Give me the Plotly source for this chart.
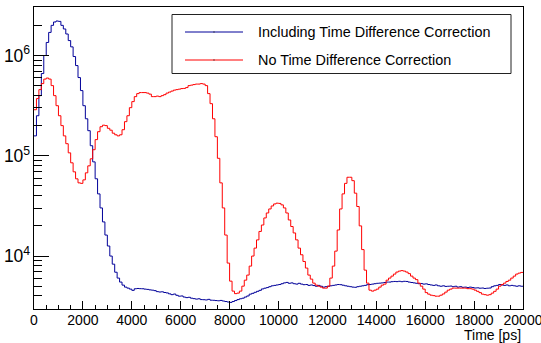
import plotly.graph_objects as go

# ---------------- data ----------------
bin_start_ps = 0
bin_width_ps = 100
series_names = ["Including Time Difference Correction", "No Time Difference Correction"]
series_colors = ["#000099", "#ff0000"]

counts_corrected = [
    158000, 251000, 398000, 661000, 1000000, 1350000, 1700000, 2000000, 2160000, 2210000,
    2190000, 2000000, 1840000, 1640000, 1410000, 1220000, 977000, 794000, 603000, 447000,
    316000, 234000, 178000, 126000, 87000, 59000, 41700, 30200, 21900, 16200,
    12600, 10000, 8300, 6900, 6030, 5500, 5130, 4900, 4790, 4680,
    4550, 4720, 4750, 4730, 4720, 4680, 4650, 4600, 4570, 4520,
    4420, 4380, 4400, 4330, 4290, 4200, 4120, 4180, 4060, 3980,
    4000, 3900, 3850, 3880, 3800, 3760, 3720, 3750, 3680, 3670,
    3650, 3700, 3630, 3620, 3600, 3580, 3610, 3560, 3520, 3480,
    3450, 3520, 3600, 3680, 3750, 3800, 3900, 4000, 4170, 4250,
    4350, 4450, 4550, 4700, 4780, 4850, 4950, 5050, 5100, 5150,
    5200, 5300, 5400, 5460, 5350, 5400, 5300, 5250, 5350, 5250,
    5180, 5200, 5100, 5150, 5080, 5000, 5100, 5000, 4900, 4950,
    5000, 5050, 5100, 5150, 5200, 5180, 5120, 5050, 5000, 4950,
    4900, 4880, 4950, 5000, 5050, 5100, 5180, 5200, 5250, 5300,
    5350, 5370, 5400, 5450, 5500, 5500, 5550, 5580, 5560, 5600,
    5550, 5600, 5580, 5500, 5450, 5400, 5350, 5300, 5320, 5250,
    5280, 5200, 5150, 5100, 5150, 5050, 5000, 5050, 4980, 5000,
    5020, 4950, 5000, 4900, 4950, 4880, 4900, 4850, 4900, 4850,
    4800, 4820, 4780, 4800, 4750, 4780, 4800, 4950, 5050, 5100,
    5200, 5150, 5100, 5150, 5050, 5100, 5050, 5000, 5050, 5000,
]

counts_uncorrected = [
    288000, 372000, 457000, 525000, 582000, 596000, 582000, 501000, 398000, 316000,
    251000, 200000, 158000, 132000, 107000, 85100, 69200, 58900, 53700, 53100,
    57500, 67600, 79400, 93300, 115000, 145000, 174000, 195000, 202000, 200000,
    188000, 180000, 168000, 162000, 158000, 162000, 182000, 219000, 251000, 302000,
    347000, 389000, 417000, 427000, 427000, 427000, 422000, 412000, 389000, 389000,
    394000, 389000, 398000, 407000, 422000, 432000, 442000, 452000, 457000, 462000,
    468000, 470000, 479000, 501000, 507000, 513000, 519000, 519000, 525000, 519000,
    501000, 417000, 331000, 234000, 155000, 94400, 53700, 30200, 16200, 8510,
    5620, 4470, 4220, 4270, 4470, 5010, 5750, 6460, 7940, 10000,
    12000, 14500, 17600, 20400, 24000, 26900, 29500, 31600, 33100, 33700,
    33500, 32400, 30200, 26900, 22900, 19700, 17000, 14500, 12000, 10300,
    8830, 7590, 6460, 5890, 5370, 5130, 5010, 4900, 4790, 4790,
    5010, 6030, 7940, 11200, 18200, 29500, 41700, 53100, 61100, 61100,
    56500, 42400, 31200, 20000, 11600, 7240, 5370, 4570, 4470, 4570,
    4680, 4900, 5130, 5250, 5750, 6030, 6310, 6610, 6920, 7080,
    7160, 7080, 6920, 6680, 6310, 6030, 5820, 5370, 5010, 4680,
    4320, 4170, 4070, 4030, 3980, 3980, 4070, 4190, 4370, 4570,
    4680, 4790, 4790, 4790, 4790, 4790, 4790, 4730, 4730, 4680,
    4570, 4450, 4320, 4170, 4120, 4070, 4120, 4270, 4450, 4680,
    5010, 5190, 5370, 5580, 5750, 6030, 6310, 6610, 6760, 6870,
]

x_tick_values = [0, 2000, 4000, 6000, 8000, 10000, 12000, 14000, 16000, 18000, 20000]
x_tick_labels = ["0", "2000", "4000", "6000", "8000", "10000", "12000", "14000", "16000", "18000", "20000"]
x_title = "Time [ps]"
x_range = [0, 20000]
y_range_log = [3.472, 6.484]

# ---------------- figure ----------------
FONT = "Liberation Sans, Arial, Helvetica, sans-serif"

n_bins = len(counts_corrected)
edges = [bin_start_ps + i * bin_width_ps for i in range(n_bins + 1)]

fig = go.Figure()
for name, color, vals in zip(series_names, series_colors,
                             [counts_corrected, counts_uncorrected]):
    fig.add_trace(go.Scatter(
        x=edges, y=list(vals) + [vals[-1]],
        mode="lines", line=dict(color=color, width=1, shape="hv"),
        name=name, showlegend=False, hoverinfo="skip",
    ))

W, H = 541, 343
L, R, T, B = 34, 18, 7, 34
pw, ph = W - L - R, H - T - B


def px(xp):
    return (xp - L) / pw


def py(yp):
    return (H - B - yp) / ph


shapes = [
    dict(type="rect", xref="paper", yref="paper",
         x0=px(172), x1=px(511), y0=py(73.5), y1=py(14.5),
         line=dict(color="#222222", width=1), fillcolor="white", layer="above"),
]
annotations = []
for i, (name, color) in enumerate(zip(series_names, series_colors)):
    yc = py(32 + 28 * i)
    shapes.append(dict(type="line", xref="paper", yref="paper",
                       x0=px(185), x1=px(243), y0=yc, y1=yc,
                       line=dict(color=color, width=1), layer="above"))
    shapes.append(dict(type="line", xref="paper", yref="paper",
                       x0=px(213.5), x1=px(214.5), y0=yc, y1=yc,
                       line=dict(color="black", width=1), layer="above"))
    annotations.append(dict(xref="paper", yref="paper", x=px(256), y=yc,
                            xanchor="left", yanchor="middle", showarrow=False,
                            text=name, font=dict(family=FONT, size=14.4, color="black")))

annotations.append(dict(xref="paper", yref="paper", x=1.0, y=py(335),
                        xanchor="right", yanchor="middle", showarrow=False,
                        text=x_title, font=dict(family=FONT, size=14, color="black")))

fig.update_layout(
    width=W, height=H,
    margin=dict(l=L, r=R, t=T, b=B, pad=0, autoexpand=False),
    paper_bgcolor="white", plot_bgcolor="white",
    font=dict(family=FONT, size=14, color="black"),
    shapes=shapes, annotations=annotations,
    xaxis=dict(
        range=x_range, tickvals=x_tick_values, ticktext=x_tick_labels,
        automargin=False, ticklabeloverflow="allow", ticklabelstandoff=-2,
        ticks="inside", ticklen=8, tickwidth=1, tickcolor="black",
        showline=True, linecolor="black", linewidth=1, mirror=True,
        showgrid=False, zeroline=False,
        tickfont=dict(family=FONT, size=14, color="black"),
        minor=dict(ticks="inside", ticklen=4, tickwidth=1, tickcolor="black",
                   dtick=500, showgrid=False),
    ),
    yaxis=dict(
        type="log", range=y_range_log, dtick=1, exponentformat="power",
        automargin=False, ticklabeloverflow="allow",
        ticks="inside", ticklen=15, tickwidth=1, tickcolor="black",
        showline=True, linecolor="black", linewidth=1, mirror=True,
        showgrid=False, zeroline=False,
        tickfont=dict(family=FONT, size=14, color="black"),
        minor=dict(ticks="inside", ticklen=8, tickwidth=1, tickcolor="black",
                   dtick="D1", showgrid=False),
    ),
)

fig.write_html(
    "out.html",
    config={"displayModeBar": False},
    post_script="document.body.style.margin='0';document.body.style.overflow='hidden';",
)
